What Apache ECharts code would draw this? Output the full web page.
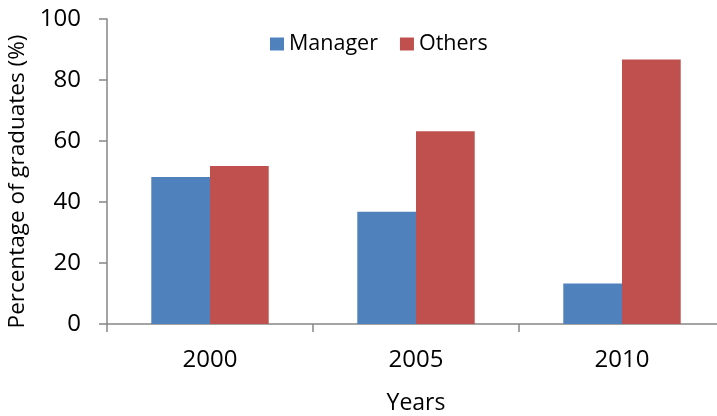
<!DOCTYPE html>
<html>
<head>
<meta charset="utf-8">
<style>
html,body{margin:0;padding:0;background:#fff;}
#chart{width:717px;height:416px;}
</style>
<script src="https://cdn.jsdelivr.net/npm/echarts@6/dist/echarts.min.js"></script>
</head>
<body>
<div id="chart"></div>
<script>
const years = ['2000', '2005', '2010'];
const managerValues = [48.2, 36.8, 13.3];
const othersValues = [51.8, 63.2, 86.7];
const seriesNames = ['Manager', 'Others'];
const yAxisTitle = 'Percentage of graduates (%)';
const xAxisTitle = 'Years';

const FONT = '"Open Sans", sans-serif';
const AXIS_COLOR = '#868686';

const chart = echarts.init(document.getElementById('chart'), null, {renderer: 'canvas'});
chart.setOption({
  animation: false,
  textStyle: {fontFamily: FONT},
  legend: {
    left: 265, top: 28,
    itemWidth: 14, itemHeight: 13, itemGap: 22,
    icon: 'rect',
    textStyle: {fontFamily: FONT, fontSize: 21.5, color: '#000'},
    data: seriesNames
  },
  grid: {left: 107, top: 19, width: 618, height: 305, containLabel: false, outerBoundsMode: 'none'},
  xAxis: {
    type: 'category',
    data: years,
    name: xAxisTitle,
    nameLocation: 'middle',
    nameGap: 68,
    nameTextStyle: {fontFamily: FONT, fontSize: 23, color: '#000'},
    axisLine: {lineStyle: {color: AXIS_COLOR, width: 1.5}},
    axisTick: {show: true, length: 8, lineStyle: {color: AXIS_COLOR, width: 1.5}},
    axisLabel: {fontFamily: FONT, fontSize: 24, color: '#000', margin: 24}
  },
  yAxis: {
    type: 'value',
    min: 0, max: 100, interval: 20,
    name: yAxisTitle,
    nameLocation: 'middle',
    nameGap: 55,
    nameTextStyle: {fontFamily: FONT, fontSize: 22.5, color: '#000', padding: [0, 20, 0, 0]},
    splitLine: {show: false},
    axisLine: {show: true, lineStyle: {color: AXIS_COLOR, width: 1.5}},
    axisTick: {show: true, length: 8, lineStyle: {color: AXIS_COLOR, width: 1.5}},
    axisLabel: {fontFamily: FONT, fontSize: 24, color: '#000', margin: 26}
  },
  series: [
    {
      name: seriesNames[0], type: 'bar', data: managerValues,
      barGap: '0%', barCategoryGap: '43%',
      itemStyle: {color: '#4F81BD'}
    },
    {
      name: seriesNames[1], type: 'bar', data: othersValues,
      barGap: '0%', barCategoryGap: '43%',
      itemStyle: {color: '#C0504D'}
    }
  ]
});
</script>
</body>
</html>
